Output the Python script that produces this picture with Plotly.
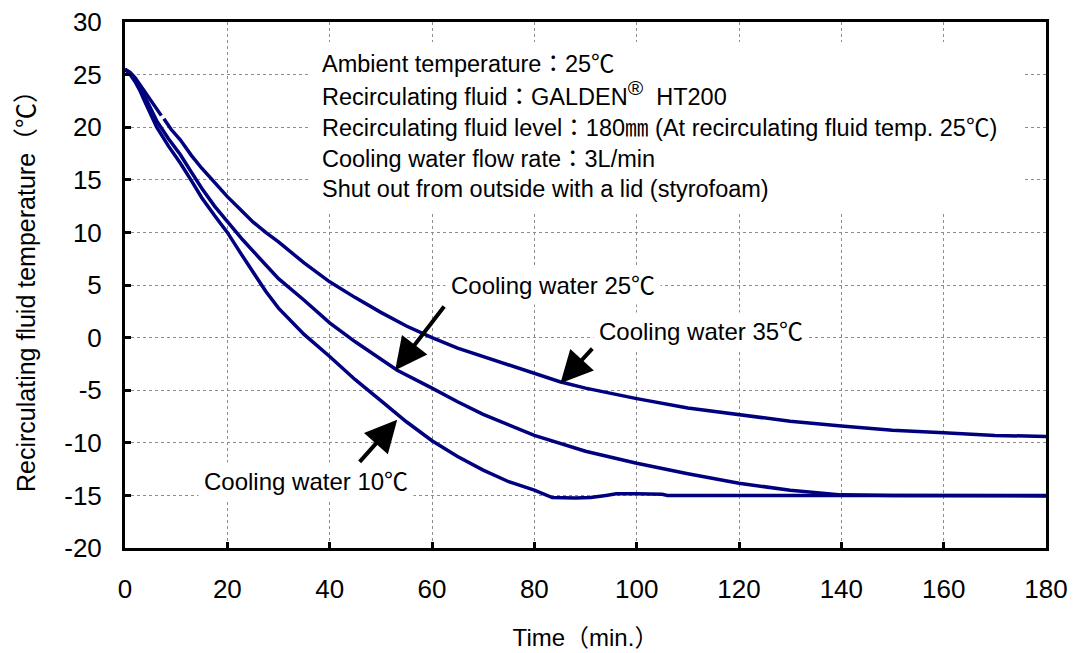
import plotly.graph_objects as go

# ---- data ----
time_35 = [0, 1, 2, 3, 4, 5, 6, 7.1, 7.3, 7.6, 9, 10.8, 13, 15, 17.5, 20, 22.5, 25, 27.5, 30, 35, 40, 45, 50, 55, 60, 65, 70, 75, 80, 85, 90, 100, 110, 120, 130, 140, 150, 160, 170, 180]
temp_35 = [25.5, 25.2, 24.7, 24.0, 23.3, 22.6, 21.9, 21.1, None, 20.8, 19.8, 18.8, 17.3, 16.1, 14.7, 13.4, 12.2, 11.0, 10.0, 9.1, 7.1, 5.3, 3.8, 2.4, 1.1, 0.0, -1.0, -1.8, -2.6, -3.4, -4.2, -4.8, -5.8, -6.7, -7.35, -7.95, -8.4, -8.8, -9.05, -9.3, -9.4]

time_25 = [0, 1, 2, 3, 4, 5, 6.2, 8.5, 10.8, 13, 15, 17.5, 20, 23, 26.4, 30, 34.9, 40, 45, 53.2, 60, 65, 70, 77.3, 80, 90, 100, 110, 120, 130, 136, 140, 150, 160, 170, 180]
temp_25 = [25.5, 25.1, 24.5, 23.7, 22.8, 21.8, 20.6, 18.9, 17.4, 15.7, 14.2, 12.5, 11.0, 9.3, 7.5, 5.6, 3.6, 1.4, -0.4, -3.1, -4.8, -6.1, -7.3, -8.8, -9.3, -10.8, -11.95, -12.95, -13.85, -14.5, -14.8, -14.95, -15.0, -15.0, -15.05, -15.05]

time_10 = [0, 1, 2, 3, 4, 5, 6.2, 8.5, 10.8, 13, 15, 17.5, 20, 22.5, 25, 27.5, 30, 35, 40, 45, 50, 55, 60, 65, 70, 75, 80, 83.5, 88, 91, 94, 96, 100, 105, 106, 120, 140, 160, 180]
temp_10 = [25.5, 25.0, 24.3, 23.4, 22.3, 21.2, 20.0, 18.2, 16.6, 14.9, 13.3, 11.6, 10.0, 8.1, 6.2, 4.4, 2.8, 0.3, -1.8, -4.0, -6.0, -8.0, -9.8, -11.3, -12.6, -13.7, -14.5, -15.2, -15.25, -15.2, -15.0, -14.85, -14.85, -14.9, -15.0, -15.0, -15.0, -15.0, -15.0]

x_ticks = [0, 20, 40, 60, 80, 100, 120, 140, 160, 180]
y_ticks = [30, 25, 20, 15, 10, 5, 0, -5, -10, -15, -20]

CJK = "font-family:Noto Sans CJK JP"
COLON = "<span style='%s'>：</span>" % CJK
info_lines = [
    "Ambient temperature" + COLON + "25℃",
    "Recirculating fluid" + COLON + "GALDEN<sup><span style='font-size:21px'>®</span></sup>  HT200",
    "Recirculating fluid level" + COLON + "180㎜ (At recirculating fluid temp. 25℃)",
    "Cooling water flow rate" + COLON + "3L/min",
    "Shut out from outside with a lid (styrofoam)",
]
info_y = [26.2, 23.15, 20.1, 17.15, 14.1]

curve_labels = ["Cooling water 25℃", "Cooling water 35℃", "Cooling water 10℃"]
label_x = [83.7, 112.6, 35.4]
label_y = [5.0, 0.6, -13.7]

arrow_tip_x = [52.8, 85.1, 53.2]
arrow_tip_y = [-3.1, -4.35, -7.8]
arrow_tail_x = [62.6, 91.6, 45.6]
arrow_tail_y = [3.1, -0.9, -11.95]

FONT = "Liberation Sans, Arial, Noto Sans CJK JP, sans-serif"
LINE_COLOR = "#00007f"

fig = go.Figure()
for t, v in [(time_35, temp_35), (time_25, temp_25), (time_10, temp_10)]:
    fig.add_trace(go.Scatter(x=t, y=v, mode="lines", connectgaps=False,
                             line=dict(color=LINE_COLOR, width=3.5),
                             showlegend=False, hoverinfo="skip"))

# white box behind info text (hides gridlines)
fig.add_shape(type="rect", xref="x", yref="y", x0=36.2, x1=175.3, y0=11.9, y1=28.1,
              fillcolor="white", line=dict(width=0), layer="between")

for txt, yy in zip(info_lines, info_y):
    fig.add_annotation(x=38.1, y=yy, xref="x", yref="y", text=txt, showarrow=False,
                       xanchor="left", yanchor="middle",
                       font=dict(family=FONT, size=23.5, color="black"))

for txt, xx, yy in zip(curve_labels, label_x, label_y):
    fig.add_annotation(x=xx, y=yy, xref="x", yref="y", text=txt, showarrow=False,
                       xanchor="center", yanchor="middle", bgcolor="white", borderpad=5,
                       font=dict(family=FONT, size=24, color="black"))

for tx, ty, ax, ay in zip(arrow_tip_x, arrow_tip_y, arrow_tail_x, arrow_tail_y):
    fig.add_annotation(x=tx, y=ty, ax=ax, ay=ay, xref="x", yref="y", axref="x", ayref="y",
                       text="", showarrow=True, arrowhead=2, arrowsize=1.6, arrowwidth=4,
                       arrowcolor="black", standoff=0, startstandoff=0)

fig.update_xaxes(range=[0, 180], tickvals=x_ticks, ticktext=[str(v) for v in x_ticks],
                 showgrid=True, gridcolor="#8c8c8c", griddash="dot", gridwidth=1,
                 showline=True, linecolor="black", linewidth=3, mirror=True,
                 ticks="inside", ticklen=6, tickwidth=3, tickcolor="black",
                 ticklabelstandoff=16, zeroline=False, automargin=False,
                 tickfont=dict(family=FONT, size=26, color="black"),
                 title=dict(text="Time（min.）", font=dict(family=FONT, size=24, color="black"), standoff=26))
fig.update_yaxes(range=[-20, 30], tickvals=y_ticks, ticktext=[str(v) for v in y_ticks],
                 showgrid=True, gridcolor="#8c8c8c", griddash="dot", gridwidth=1,
                 showline=True, linecolor="black", linewidth=3, mirror=True,
                 ticks="inside", ticklen=6, tickwidth=3, tickcolor="black",
                 ticklabelstandoff=15, zeroline=False, automargin=False,
                 tickfont=dict(family=FONT, size=26, color="black"),
                 title=dict(text="Recirculating fluid temperature（℃）", font=dict(family=FONT, size=25, color="black"), standoff=22))

fig.update_layout(width=1079, height=653, margin=dict(l=125, r=33, t=22, b=105),
                  plot_bgcolor="white", paper_bgcolor="white")

fig.write_html("out.html", config={"displayModeBar": False},
               post_script="document.body.style.margin='0px';")
